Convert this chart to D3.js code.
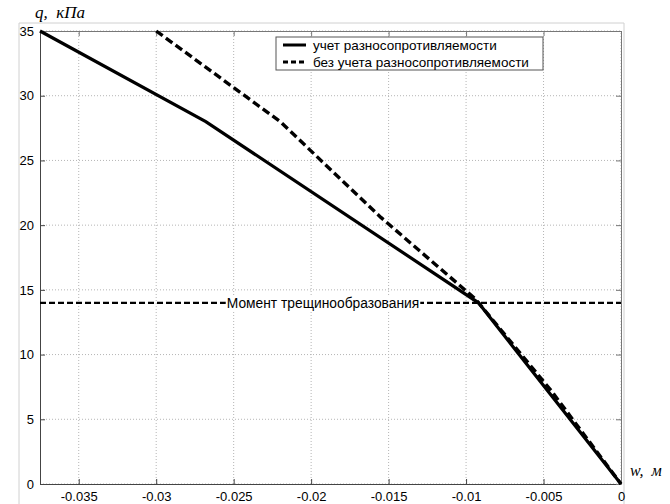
<!DOCTYPE html>
<html>
<head>
<meta charset="utf-8">
<script src="https://cdn.jsdelivr.net/npm/d3@7"></script>
<style>
  body { margin: 0; background: #fff; }
  svg { display: block; }
</style>
</head>
<body>
<div id="chart"></div>
<script>
// кривые прогиба: w (м) и q (кПа)
const withW = [-0.0375, -0.0268, -0.0092, 0];
const withQ = [35, 28, 14, 0];
const withoutW = [-0.0300, -0.0220, -0.0155, -0.0094, -0.0045, 0];
const withoutQ = [35, 28, 20.6, 14.3, 7.2, 0];
const crackW = [-0.0375, 0];
const crackQ = [14, 14];
const xTicks = [-0.035, -0.03, -0.025, -0.02, -0.015, -0.01, -0.005, 0];
const yTicks = [0, 5, 10, 15, 20, 25, 30, 35];
const legendLabels = ["учет разносопротивляемости", "без учета разносопротивляемости"];
const crackLabel = "Момент трещинообразования";

const width = 670, height = 504;
const margin = { top: 31, right: 49, bottom: 20, left: 40 };

const svg = d3.select("#chart").append("svg")
  .attr("width", width)
  .attr("height", height);

svg.append("rect").attr("width", width).attr("height", height).attr("fill", "#fff");

// внешняя рамка фигуры
svg.append("path")
  .attr("d", `M19,${height} V23 H624 V${height}`)
  .attr("fill", "none")
  .attr("stroke", "#d0d0d0");

const x = d3.scaleLinear()
  .domain([-0.0375, 0])
  .range([margin.left, width - margin.right]);

const y = d3.scaleLinear()
  .domain([0, 35])
  .range([height - margin.bottom, margin.top]);

const x0 = x.range()[0], x1 = x.range()[1];
const y0 = y.range()[0], y1 = y.range()[1];

// сетка
const grid = svg.append("g").attr("stroke", "#b5b5b5").attr("stroke-dasharray", "1,2");
grid.selectAll("line.gx").data(xTicks).join("line")
  .attr("x1", d => x(d)).attr("x2", d => x(d))
  .attr("y1", y0).attr("y2", y1);
grid.selectAll("line.gy").data(yTicks).join("line")
  .attr("x1", x0).attr("x2", x1)
  .attr("y1", d => y(d)).attr("y2", d => y(d));

// оси с засечками внутрь
const fmt = d => d === 0 ? "0" : String(d);
const axB = svg.append("g").attr("transform", `translate(0,${y0})`)
  .call(d3.axisBottom(x).tickValues(xTicks).tickSizeInner(-5).tickSizeOuter(0).tickPadding(9).tickFormat(fmt));
const axL = svg.append("g").attr("transform", `translate(${x0},0)`)
  .call(d3.axisLeft(y).tickValues(yTicks).tickSizeInner(-5).tickSizeOuter(0).tickPadding(6).tickFormat(fmt));
const axT = svg.append("g").attr("transform", `translate(0,${y1})`)
  .call(d3.axisTop(x).tickValues(xTicks).tickSizeInner(-5).tickSizeOuter(0).tickFormat(""));
const axR = svg.append("g").attr("transform", `translate(${x1},0)`)
  .call(d3.axisRight(y).tickValues(yTicks).tickSizeInner(-5).tickSizeOuter(0).tickFormat(""));

[axB, axL].forEach(a => {
  a.select(".domain").attr("stroke", "#444");
  a.selectAll(".tick line").attr("stroke", "#444");
  a.selectAll("text")
    .attr("font-family", "Liberation Sans, Arial, sans-serif")
    .attr("font-size", "13px")
    .attr("fill", "#000");
});
[axT, axR].forEach(a => {
  a.select(".domain").attr("stroke", "#777");
  a.selectAll(".tick line").attr("stroke", "#777");
});
axB.selectAll("text").attr("dy", "0.6em");

// линия трещинообразования
const line = d3.line().x(d => x(d[0])).y(d => y(d[1]));
const crack = crackW.map((w, i) => [w, crackQ[i]]);
svg.append("path")
  .attr("d", line(crack))
  .attr("fill", "none")
  .attr("stroke", "#000")
  .attr("stroke-width", 2.2)
  .attr("stroke-dasharray", "6,3");

const crackG = svg.append("g");
const crackText = crackG.append("text")
  .attr("x", 323)
  .attr("y", y(14))
  .attr("dy", "0.35em")
  .attr("text-anchor", "middle")
  .attr("font-family", "Liberation Sans, Arial, sans-serif")
  .attr("font-size", "13.8px")
  .text(crackLabel);
const bb = crackText.node().getBBox();
crackG.insert("rect", "text")
  .attr("x", bb.x - 1).attr("y", bb.y)
  .attr("width", bb.width + 2).attr("height", bb.height)
  .attr("fill", "#fff");

// кривые
const withPts = withW.map((w, i) => [w, withQ[i]]);
const withoutPts = withoutW.map((w, i) => [w, withoutQ[i]]);

svg.append("path")
  .attr("d", line(withoutPts))
  .attr("fill", "none")
  .attr("stroke", "#000")
  .attr("stroke-width", 3.4)
  .attr("stroke-dasharray", "8,4");

svg.append("path")
  .attr("d", line(withPts))
  .attr("fill", "none")
  .attr("stroke", "#000")
  .attr("stroke-width", 3.2);

// легенда
const legend = svg.append("g");
legend.append("rect")
  .attr("x", 276).attr("y", 37)
  .attr("width", 267).attr("height", 33)
  .attr("fill", "#fff")
  .attr("stroke", "#555");
legend.selectAll("line")
  .data(legendLabels)
  .join("line")
  .attr("x1", 283).attr("x2", 306)
  .attr("y1", (d, i) => 45 + i * 17).attr("y2", (d, i) => 45 + i * 17)
  .attr("stroke", "#000")
  .attr("stroke-width", 3)
  .attr("stroke-dasharray", (d, i) => i === 0 ? null : "5,3");
legend.selectAll("text")
  .data(legendLabels)
  .join("text")
  .attr("x", 313)
  .attr("y", (d, i) => 45 + i * 17)
  .attr("dy", "0.35em")
  .attr("font-family", "Liberation Sans, Arial, sans-serif")
  .attr("font-size", "13.5px")
  .text(d => d);

// подписи осей
svg.append("text")
  .attr("x", 35).attr("y", 18)
  .attr("font-family", "Liberation Serif, Times New Roman, serif")
  .attr("font-style", "italic")
  .attr("font-size", "17px")
  .attr("xml:space", "preserve")
  .text("q,  кПа");

svg.append("text")
  .attr("x", 630).attr("y", 476)
  .attr("font-family", "Liberation Serif, Times New Roman, serif")
  .attr("font-style", "italic")
  .attr("font-size", "16px")
  .attr("xml:space", "preserve")
  .text("w,  м");
</script>
</body>
</html>
